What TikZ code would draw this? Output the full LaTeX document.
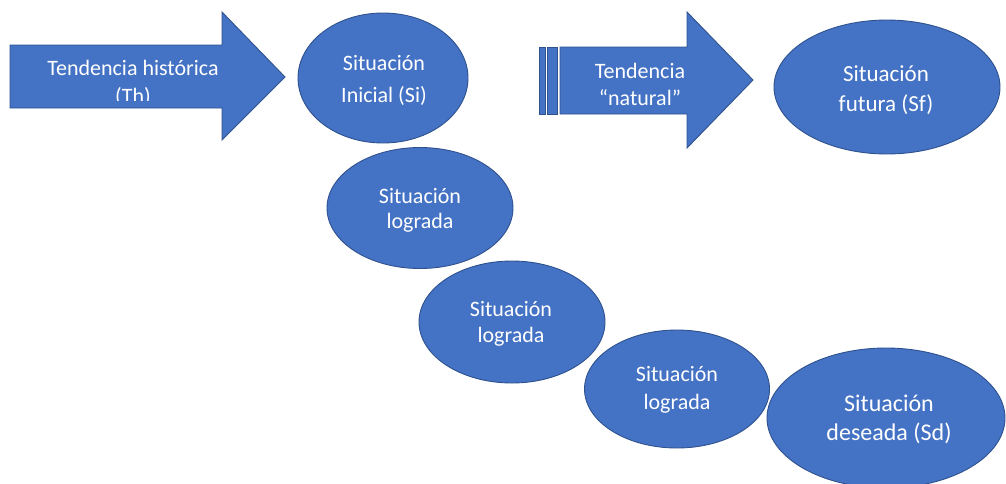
\documentclass[tikz,border=0pt]{standalone}
\usepackage{fontspec}
\setmainfont{Carlito}
\usetikzlibrary{shapes.geometric}
\definecolor{fillblue}{HTML}{4472C4}
\definecolor{edgeblue}{HTML}{2F528F}
\begin{document}
\begin{tikzpicture}[x=1pt,y=-1pt,
  shapestyle/.style={fill=fillblue,draw=edgeblue,line width=0.9pt},
  blob/.style={shapestyle,ellipse,inner sep=0pt},
  txt/.style={text=white,align=center,inner sep=0pt},
  fs/.style 2 args={font=\fontsize{#1}{#2}\selectfont}]
\useasboundingbox (0,0) rectangle (1006,483);
% arrow 1
\draw[shapestyle] (10,45) -- (222,45) -- (222,12) -- (285,77) -- (222,140) -- (222,108) -- (10,108) -- cycle;
\begin{scope}
\clip (10,45) rectangle (222,100);
\node[txt,fs={22}{28}] (th) at (133,83) {Tendencia histórica\\(Th)};
\end{scope}
% arrow 2 (striped)
\draw[shapestyle] (539,47) rectangle (545,114);
\draw[shapestyle] (547,47) rectangle (557,114);
\draw[shapestyle] (560,47) -- (687,47) -- (687,12) -- (753,80) -- (687,148) -- (687,114) -- (560,114) -- cycle;
\node[txt,fs={22}{27}] (tn) at (640,84) {Tendencia\\“natural”};
% ellipses
\node[blob,minimum width=170pt,minimum height=130pt] (si) at (383,78) {};
\node[blob,minimum width=226pt,minimum height=134pt] (sf) at (887,87) {};
\node[blob,minimum width=186pt,minimum height=121pt] (l1) at (420,208) {};
\node[blob,minimum width=186pt,minimum height=122pt] (l2) at (512,322) {};
\node[blob,minimum width=185pt,minimum height=118pt] (l3) at (677,389) {};
\node[blob,minimum width=238pt,minimum height=140pt] (sd) at (886,418) {};
% texts
\node[txt,fs={22}{32}] (si-t) at (384,80) {Situación\\Inicial (Si)};
\node[txt,fs={23}{30}] (sf-t) at (886,90) {Situación\\futura (Sf)};
\node[txt,fs={22}{25}] (l1-t) at (420,210) {Situación\\lograda};
\node[txt,fs={22}{26}] (l2-t) at (511,324) {Situación\\lograda};
\node[txt,fs={22}{28}] (l3-t) at (677,390) {Situación\\lograda};
\node[txt,fs={24}{29}] (sd-t) at (889,419) {Situación\\deseada (Sd)};
\end{tikzpicture}
\end{document}
